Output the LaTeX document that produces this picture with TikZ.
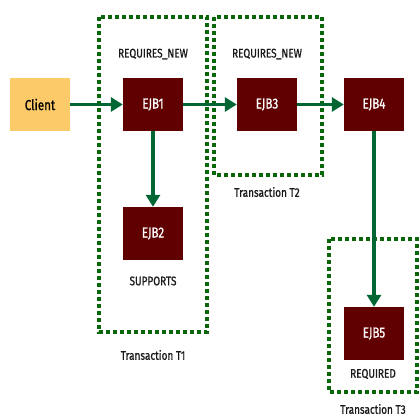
\documentclass[tikz,border=0pt]{standalone}
\usepackage{fontspec}
\setmainfont{Fira Sans}[FakeStretch=0.8, FakeBold=0.9]
\usetikzlibrary{arrows.meta}
\definecolor{ejbred}{HTML}{600000}
\definecolor{clientyel}{HTML}{FDCA6A}
\definecolor{arrowgreen}{HTML}{006633}
\definecolor{boxgreen}{HTML}{0A660A}
\tikzset{
  ejb/.style={fill=ejbred, text=white, minimum width=60pt, minimum height=53pt, inner sep=0pt, font=\fontsize{14.5}{16}\selectfont},
  client/.style={fill=clientyel, text=black, minimum width=60pt, minimum height=53pt, inner sep=0pt, font=\fontsize{14.5}{16}\selectfont},
  lbl/.style={text=black!90, inner sep=0pt, font=\fontsize{12.5}{14}\selectfont},
  flow/.style={draw=arrowgreen, line width=3.5pt, -{Triangle[length=12pt,width=14pt]}},
  txbox/.style={draw=boxgreen, line width=3.5pt, dash pattern=on 4pt off 3pt}
}
\begin{document}
\begin{tikzpicture}[x=1pt,y=-1pt]
\useasboundingbox (0,0) rectangle (420,420);
\fill[white] (0,0) rectangle (420,420);
% transaction boxes
\draw[txbox] (99,17) rectangle (207,332);
\draw[txbox] (214,17) rectangle (322,175);
\draw[txbox] (329,239) rectangle (417,392);
% nodes
\node[client] (client) at (40,104.5) {Client};
\node[ejb] (ejb1) at (153,104.5) {EJB1};
\node[ejb] (ejb3) at (267,104.5) {EJB3};
\node[ejb] (ejb4) at (374,104.5) {EJB4};
\node[ejb] (ejb2) at (153,233.5) {EJB2};
\node[ejb] (ejb5) at (374,333.5) {EJB5};
% labels
\node[lbl] (l1) at (153,54) {REQUIRES\_NEW};
\node[lbl] (l2) at (267,54) {REQUIRES\_NEW};
\node[lbl] (l3) at (267,192) {Transaction T2};
\node[lbl] (l4) at (153,281) {SUPPORTS};
\node[lbl] (l5) at (153,355) {Transaction T1};
\node[lbl] (l6) at (373,374) {REQUIRED};
\node[lbl] (l7) at (373,409) {Transaction T3};
% arrows
\draw[flow] (client) -- (ejb1);
\draw[flow] (ejb1) -- (ejb3);
\draw[flow] (ejb3) -- (ejb4);
\draw[flow] (ejb1) -- (ejb2);
\draw[flow] (ejb4) -- (ejb5);
\end{tikzpicture}
\end{document}
